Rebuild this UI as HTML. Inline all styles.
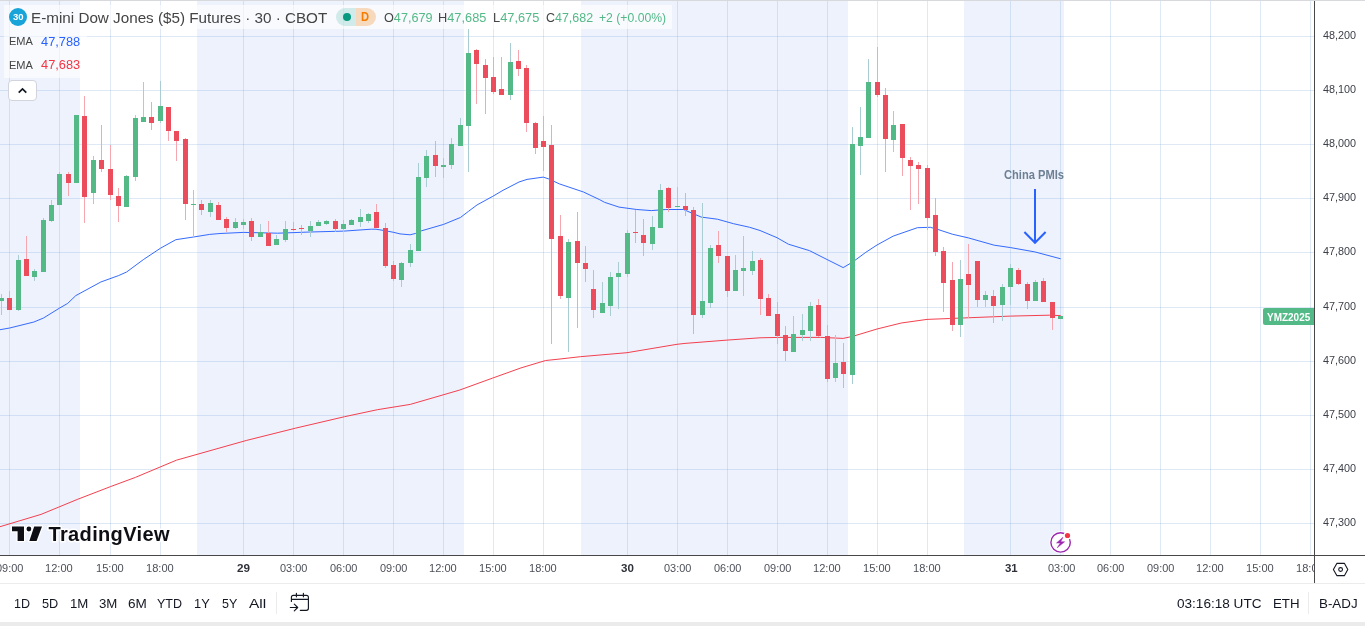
<!DOCTYPE html>
<html lang="en"><head><meta charset="utf-8"><title>E-mini Dow Jones ($5) Futures</title>
<style>
html,body{margin:0;padding:0;background:#fff;}
body{width:1365px;height:626px;overflow:hidden;position:relative;font-family:"Liberation Sans",sans-serif;color:#131722;}
.t{position:absolute;white-space:nowrap;line-height:1;transform-origin:0 0;}
.t b{font-weight:inherit;}
#top{position:absolute;left:0;top:0;width:1365px;height:1px;background:#d8d9dd;}
#chart{position:absolute;left:0;top:0;width:1314px;height:555px;overflow:hidden;}
#chart svg{position:absolute;left:0;top:0;}
#vaxis{position:absolute;left:1314px;top:1px;width:1px;height:582px;background:#484848;}
#haxis{position:absolute;left:0;top:555px;width:1365px;height:1px;background:#484848;}
#sep{position:absolute;left:0;top:583px;width:1365px;height:1px;background:#ececec;}
#strip{position:absolute;left:0;top:622px;width:1365px;height:4px;background:#ebebeb;}
#taxis{position:absolute;left:0;top:556px;width:1314px;height:27px;overflow:hidden;}
#last{position:absolute;left:1263px;top:308px;width:51px;height:17px;background:#53b987;border-radius:2px 0 0 2px;color:#fff;font-size:11px;font-weight:bold;line-height:17px;text-align:center;letter-spacing:-0.2px;}
#legend1{position:absolute;left:4px;top:5px;width:668px;height:24px;background:rgba(255,255,255,0.6);}
#legend2{position:absolute;left:4px;top:29px;width:83px;height:49px;background:rgba(255,255,255,0.6);}
#logo{position:absolute;left:9px;top:8px;width:18px;height:18px;border-radius:50%;background:#18a4d9;}
#pill{position:absolute;left:336px;top:8px;width:40px;height:18px;border-radius:9px;overflow:hidden;}
#pill i{position:absolute;top:0;height:18px;width:20px;}
#pill .a{left:0;background:rgba(8,153,129,0.16);}
#pill .b{left:20px;background:rgba(245,124,0,0.25);}
#pill .dot{position:absolute;left:7px;top:5px;width:8.2px;height:8.2px;border-radius:50%;background:#089981;}
#collapse{position:absolute;left:8px;top:80px;width:27px;height:19px;border:1px solid #d1d4dc;border-radius:4px;background:#fff;}
#tb{position:absolute;left:0;top:584px;width:1365px;height:38px;font-size:14px;line-height:38px;color:#131722;}
#tb i{position:absolute;display:block;}
#tvtext{font-weight:bold;}
</style></head><body>
<div id="chart">
<svg width="1314" height="555" viewBox="0 0 1314 555" shape-rendering="crispEdges">
<rect x="0" y="0" width="80" height="555" fill="#eef2fd"/><rect x="197" y="0" width="267" height="555" fill="#eef2fd"/><rect x="581" y="0" width="267" height="555" fill="#eef2fd"/><rect x="964" y="0" width="100" height="555" fill="#eef2fd"/>
<rect x="9" y="0" width="1" height="555" fill="#6a9bd1" fill-opacity="0.22"/><rect x="59" y="0" width="1" height="555" fill="#6a9bd1" fill-opacity="0.22"/><rect x="110" y="0" width="1" height="555" fill="#6a9bd1" fill-opacity="0.22"/><rect x="160" y="0" width="1" height="555" fill="#6a9bd1" fill-opacity="0.22"/><rect x="243" y="0" width="1" height="555" fill="#6a9bd1" fill-opacity="0.22"/><rect x="293" y="0" width="1" height="555" fill="#6a9bd1" fill-opacity="0.22"/><rect x="343" y="0" width="1" height="555" fill="#6a9bd1" fill-opacity="0.22"/><rect x="393" y="0" width="1" height="555" fill="#6a9bd1" fill-opacity="0.22"/><rect x="443" y="0" width="1" height="555" fill="#6a9bd1" fill-opacity="0.22"/><rect x="493" y="0" width="1" height="555" fill="#6a9bd1" fill-opacity="0.22"/><rect x="543" y="0" width="1" height="555" fill="#6a9bd1" fill-opacity="0.22"/><rect x="627" y="0" width="1" height="555" fill="#6a9bd1" fill-opacity="0.22"/><rect x="677" y="0" width="1" height="555" fill="#6a9bd1" fill-opacity="0.22"/><rect x="727" y="0" width="1" height="555" fill="#6a9bd1" fill-opacity="0.22"/><rect x="777" y="0" width="1" height="555" fill="#6a9bd1" fill-opacity="0.22"/><rect x="827" y="0" width="1" height="555" fill="#6a9bd1" fill-opacity="0.22"/><rect x="877" y="0" width="1" height="555" fill="#6a9bd1" fill-opacity="0.22"/><rect x="927" y="0" width="1" height="555" fill="#6a9bd1" fill-opacity="0.22"/><rect x="1010" y="0" width="1" height="555" fill="#6a9bd1" fill-opacity="0.22"/><rect x="1060" y="0" width="1" height="555" fill="#6a9bd1" fill-opacity="0.22"/><rect x="1110" y="0" width="1" height="555" fill="#6a9bd1" fill-opacity="0.22"/><rect x="1160" y="0" width="1" height="555" fill="#6a9bd1" fill-opacity="0.22"/><rect x="1210" y="0" width="1" height="555" fill="#6a9bd1" fill-opacity="0.22"/><rect x="1260" y="0" width="1" height="555" fill="#6a9bd1" fill-opacity="0.22"/><rect x="1310" y="0" width="1" height="555" fill="#6a9bd1" fill-opacity="0.22"/><rect x="0" y="36" width="1314" height="1" fill="#6a9bd1" fill-opacity="0.22"/><rect x="0" y="90" width="1314" height="1" fill="#6a9bd1" fill-opacity="0.22"/><rect x="0" y="144" width="1314" height="1" fill="#6a9bd1" fill-opacity="0.22"/><rect x="0" y="198" width="1314" height="1" fill="#6a9bd1" fill-opacity="0.22"/><rect x="0" y="252" width="1314" height="1" fill="#6a9bd1" fill-opacity="0.22"/><rect x="0" y="307" width="1314" height="1" fill="#6a9bd1" fill-opacity="0.22"/><rect x="0" y="361" width="1314" height="1" fill="#6a9bd1" fill-opacity="0.22"/><rect x="0" y="415" width="1314" height="1" fill="#6a9bd1" fill-opacity="0.22"/><rect x="0" y="469" width="1314" height="1" fill="#6a9bd1" fill-opacity="0.22"/><rect x="0" y="523" width="1314" height="1" fill="#6a9bd1" fill-opacity="0.22"/>
<g shape-rendering="geometricPrecision" fill="none" stroke-linejoin="round" stroke-linecap="round">
<polyline points="0.0,329.7 9.7,328.0 33.9,322.0 43.5,318.0 59.7,308.0 67.7,303.4 75.8,295.6 100.8,282.0 118.5,275.6 126.6,272.0 143.5,259.5 160.5,248.2 175.8,239.7 193.5,237.0 209.7,234.4 220.0,233.5 243.5,232.4 277.7,233.2 310.0,232.0 343.9,231.1 371.3,229.2 376.0,229.2 385.8,230.8 393.9,232.4 400.0,233.9 410.1,234.8 415.7,233.4 421.2,230.9 443.6,224.4 460.4,217.5 468.7,211.2 477.1,204.9 492.8,196.3 503.0,190.3 519.0,182.0 527.0,179.4 543.2,177.1 548.9,179.0 559.4,183.9 583.5,192.0 599.7,199.7 604.5,202.3 619.0,207.1 636.8,209.5 651.3,210.6 665.8,209.5 683.5,209.5 690.0,212.3 701.3,217.1 717.4,219.2 733.5,223.7 749.7,227.3 760.0,230.5 777.0,237.7 788.4,244.2 809.4,250.6 827.0,259.5 843.2,267.6 852.9,261.9 865.8,252.3 877.0,245.0 893.2,236.1 917.4,227.7 930.3,227.3 937.7,229.4 952.3,234.2 968.4,237.9 994.2,245.2 1010.6,247.6 1034.8,251.9 1060.3,258.7" stroke="#2962ff" stroke-width="0.95"/>
<polyline points="0.0,526.7 41.0,514.4 77.9,499.2 110.8,486.5 135.4,477.4 176.4,460.2 246.2,440.5 295.4,428.2 344.6,416.7 377.4,409.7 410.3,404.4 459.5,390.1 492.3,378.2 521.0,367.9 545.6,360.5 560.0,359.0 580.3,356.7 627.0,352.7 677.0,344.3 685.0,343.4 727.0,340.1 760.0,337.8 780.0,337.4 820.6,337.4 843.2,338.4 852.9,336.3 877.0,329.0 901.3,323.0 927.0,319.4 949.7,318.5 962.3,318.0 1010.6,316.1 1049.4,315.2 1060.3,315.6" stroke="#f23645" stroke-width="0.95"/>
</g>
<rect x="1" y="294" width="1" height="4" fill="#a9cdd3"/>
<rect x="1" y="301" width="1" height="14" fill="#a9cdd3"/>
<rect x="9" y="291" width="1" height="7" fill="#f5a6ae"/>
<rect x="18" y="255" width="1" height="5" fill="#a9cdd3"/>
<rect x="18" y="310" width="1" height="1" fill="#a9cdd3"/>
<rect x="26" y="236" width="1" height="23" fill="#f5a6ae"/>
<rect x="34" y="269" width="1" height="2" fill="#a9cdd3"/>
<rect x="34" y="277" width="1" height="4" fill="#a9cdd3"/>
<rect x="43" y="218" width="1" height="2" fill="#a9cdd3"/>
<rect x="51" y="200" width="1" height="5" fill="#a9cdd3"/>
<rect x="51" y="221" width="1" height="1" fill="#a9cdd3"/>
<rect x="59" y="172" width="1" height="2" fill="#a9cdd3"/>
<rect x="68" y="172" width="1" height="2" fill="#f5a6ae"/>
<rect x="68" y="183" width="1" height="13" fill="#f5a6ae"/>
<rect x="84" y="96" width="1" height="20" fill="#f5a6ae"/>
<rect x="84" y="197" width="1" height="26" fill="#f5a6ae"/>
<rect x="93" y="156" width="1" height="4" fill="#a9cdd3"/>
<rect x="93" y="193" width="1" height="11" fill="#a9cdd3"/>
<rect x="101" y="125" width="1" height="35" fill="#f5a6ae"/>
<rect x="101" y="169" width="1" height="3" fill="#f5a6ae"/>
<rect x="110" y="145" width="1" height="24" fill="#f5a6ae"/>
<rect x="110" y="195" width="1" height="5" fill="#f5a6ae"/>
<rect x="118" y="188" width="1" height="8" fill="#f5a6ae"/>
<rect x="118" y="206" width="1" height="16" fill="#f5a6ae"/>
<rect x="126" y="175" width="1" height="1" fill="#a9cdd3"/>
<rect x="135" y="115" width="1" height="3" fill="#a9cdd3"/>
<rect x="135" y="177" width="1" height="4" fill="#a9cdd3"/>
<rect x="143" y="82" width="1" height="35" fill="#a9cdd3"/>
<rect x="151" y="102" width="1" height="15" fill="#f5a6ae"/>
<rect x="151" y="123" width="1" height="7" fill="#f5a6ae"/>
<rect x="160" y="81" width="1" height="25" fill="#a9cdd3"/>
<rect x="160" y="121" width="1" height="2" fill="#a9cdd3"/>
<rect x="168" y="131" width="1" height="10" fill="#f5a6ae"/>
<rect x="176" y="141" width="1" height="20" fill="#f5a6ae"/>
<rect x="185" y="138" width="1" height="1" fill="#f5a6ae"/>
<rect x="185" y="204" width="1" height="16" fill="#f5a6ae"/>
<rect x="193" y="190" width="1" height="14" fill="#a9cdd3"/>
<rect x="193" y="205" width="1" height="32" fill="#a9cdd3"/>
<rect x="201" y="200" width="1" height="4" fill="#f5a6ae"/>
<rect x="201" y="210" width="1" height="5" fill="#f5a6ae"/>
<rect x="210" y="200" width="1" height="3" fill="#a9cdd3"/>
<rect x="210" y="212" width="1" height="5" fill="#a9cdd3"/>
<rect x="218" y="202" width="1" height="3" fill="#f5a6ae"/>
<rect x="226" y="217" width="1" height="2" fill="#f5a6ae"/>
<rect x="226" y="228" width="1" height="4" fill="#f5a6ae"/>
<rect x="235" y="218" width="1" height="4" fill="#a9cdd3"/>
<rect x="235" y="228" width="1" height="1" fill="#a9cdd3"/>
<rect x="243" y="219" width="1" height="3" fill="#a9cdd3"/>
<rect x="243" y="225" width="1" height="4" fill="#a9cdd3"/>
<rect x="251" y="218" width="1" height="3" fill="#f5a6ae"/>
<rect x="251" y="237" width="1" height="4" fill="#f5a6ae"/>
<rect x="260" y="224" width="1" height="8" fill="#a9cdd3"/>
<rect x="268" y="221" width="1" height="12" fill="#f5a6ae"/>
<rect x="276" y="235" width="1" height="4" fill="#a9cdd3"/>
<rect x="285" y="221" width="1" height="8" fill="#a9cdd3"/>
<rect x="285" y="240" width="1" height="2" fill="#a9cdd3"/>
<rect x="293" y="222" width="1" height="7" fill="#f5a6ae"/>
<rect x="293" y="230" width="1" height="1" fill="#f5a6ae"/>
<rect x="301" y="225" width="1" height="3" fill="#f5a6ae"/>
<rect x="301" y="229" width="1" height="6" fill="#f5a6ae"/>
<rect x="310" y="221" width="1" height="5" fill="#a9cdd3"/>
<rect x="310" y="231" width="1" height="6" fill="#a9cdd3"/>
<rect x="318" y="220" width="1" height="2" fill="#a9cdd3"/>
<rect x="326" y="220" width="1" height="1" fill="#a9cdd3"/>
<rect x="326" y="224" width="1" height="1" fill="#a9cdd3"/>
<rect x="335" y="219" width="1" height="2" fill="#f5a6ae"/>
<rect x="335" y="229" width="1" height="3" fill="#f5a6ae"/>
<rect x="343" y="220" width="1" height="4" fill="#a9cdd3"/>
<rect x="343" y="229" width="1" height="3" fill="#a9cdd3"/>
<rect x="351" y="219" width="1" height="1" fill="#a9cdd3"/>
<rect x="360" y="209" width="1" height="8" fill="#a9cdd3"/>
<rect x="360" y="222" width="1" height="5" fill="#a9cdd3"/>
<rect x="368" y="213" width="1" height="1" fill="#a9cdd3"/>
<rect x="368" y="221" width="1" height="2" fill="#a9cdd3"/>
<rect x="376" y="204" width="1" height="8" fill="#f5a6ae"/>
<rect x="385" y="223" width="1" height="5" fill="#f5a6ae"/>
<rect x="385" y="266" width="1" height="2" fill="#f5a6ae"/>
<rect x="393" y="261" width="1" height="4" fill="#f5a6ae"/>
<rect x="393" y="279" width="1" height="2" fill="#f5a6ae"/>
<rect x="401" y="262" width="1" height="1" fill="#a9cdd3"/>
<rect x="401" y="280" width="1" height="7" fill="#a9cdd3"/>
<rect x="410" y="244" width="1" height="6" fill="#a9cdd3"/>
<rect x="410" y="263" width="1" height="4" fill="#a9cdd3"/>
<rect x="418" y="163" width="1" height="14" fill="#a9cdd3"/>
<rect x="426" y="150" width="1" height="6" fill="#a9cdd3"/>
<rect x="426" y="178" width="1" height="9" fill="#a9cdd3"/>
<rect x="435" y="141" width="1" height="14" fill="#f5a6ae"/>
<rect x="435" y="166" width="1" height="11" fill="#f5a6ae"/>
<rect x="443" y="158" width="1" height="7" fill="#a9cdd3"/>
<rect x="443" y="167" width="1" height="11" fill="#a9cdd3"/>
<rect x="451" y="138" width="1" height="6" fill="#a9cdd3"/>
<rect x="451" y="165" width="1" height="4" fill="#a9cdd3"/>
<rect x="460" y="118" width="1" height="7" fill="#a9cdd3"/>
<rect x="468" y="29" width="1" height="24" fill="#a9cdd3"/>
<rect x="468" y="126" width="1" height="46" fill="#a9cdd3"/>
<rect x="476" y="49" width="1" height="1" fill="#f5a6ae"/>
<rect x="476" y="64" width="1" height="40" fill="#f5a6ae"/>
<rect x="485" y="59" width="1" height="6" fill="#f5a6ae"/>
<rect x="485" y="78" width="1" height="36" fill="#f5a6ae"/>
<rect x="493" y="57" width="1" height="20" fill="#f5a6ae"/>
<rect x="493" y="92" width="1" height="2" fill="#f5a6ae"/>
<rect x="501" y="57" width="1" height="32" fill="#f5a6ae"/>
<rect x="510" y="43" width="1" height="19" fill="#a9cdd3"/>
<rect x="510" y="95" width="1" height="5" fill="#a9cdd3"/>
<rect x="518" y="50" width="1" height="11" fill="#f5a6ae"/>
<rect x="518" y="69" width="1" height="7" fill="#f5a6ae"/>
<rect x="526" y="65" width="1" height="3" fill="#f5a6ae"/>
<rect x="526" y="123" width="1" height="9" fill="#f5a6ae"/>
<rect x="535" y="122" width="1" height="1" fill="#f5a6ae"/>
<rect x="535" y="148" width="1" height="6" fill="#f5a6ae"/>
<rect x="543" y="116" width="1" height="25" fill="#f5a6ae"/>
<rect x="543" y="147" width="1" height="24" fill="#f5a6ae"/>
<rect x="551" y="125" width="1" height="20" fill="#f5a6ae"/>
<rect x="551" y="239" width="1" height="105" fill="#f5a6ae"/>
<rect x="560" y="215" width="1" height="21" fill="#f5a6ae"/>
<rect x="560" y="296" width="1" height="3" fill="#f5a6ae"/>
<rect x="568" y="239" width="1" height="3" fill="#a9cdd3"/>
<rect x="568" y="298" width="1" height="54" fill="#a9cdd3"/>
<rect x="577" y="212" width="1" height="29" fill="#f5a6ae"/>
<rect x="577" y="263" width="1" height="65" fill="#f5a6ae"/>
<rect x="585" y="246" width="1" height="17" fill="#f5a6ae"/>
<rect x="585" y="269" width="1" height="13" fill="#f5a6ae"/>
<rect x="593" y="270" width="1" height="19" fill="#f5a6ae"/>
<rect x="593" y="310" width="1" height="8" fill="#f5a6ae"/>
<rect x="602" y="282" width="1" height="21" fill="#a9cdd3"/>
<rect x="610" y="272" width="1" height="5" fill="#a9cdd3"/>
<rect x="610" y="306" width="1" height="10" fill="#a9cdd3"/>
<rect x="618" y="262" width="1" height="11" fill="#a9cdd3"/>
<rect x="618" y="277" width="1" height="32" fill="#a9cdd3"/>
<rect x="627" y="230" width="1" height="3" fill="#a9cdd3"/>
<rect x="627" y="274" width="1" height="3" fill="#a9cdd3"/>
<rect x="635" y="210" width="1" height="22" fill="#f5a6ae"/>
<rect x="635" y="233" width="1" height="10" fill="#f5a6ae"/>
<rect x="643" y="219" width="1" height="16" fill="#f5a6ae"/>
<rect x="643" y="243" width="1" height="13" fill="#f5a6ae"/>
<rect x="652" y="216" width="1" height="11" fill="#a9cdd3"/>
<rect x="652" y="244" width="1" height="6" fill="#a9cdd3"/>
<rect x="660" y="184" width="1" height="6" fill="#a9cdd3"/>
<rect x="668" y="187" width="1" height="1" fill="#f5a6ae"/>
<rect x="668" y="208" width="1" height="4" fill="#f5a6ae"/>
<rect x="677" y="187" width="1" height="19" fill="#a9cdd3"/>
<rect x="685" y="193" width="1" height="13" fill="#f5a6ae"/>
<rect x="685" y="210" width="1" height="6" fill="#f5a6ae"/>
<rect x="693" y="207" width="1" height="3" fill="#f5a6ae"/>
<rect x="693" y="315" width="1" height="19" fill="#f5a6ae"/>
<rect x="702" y="203" width="1" height="98" fill="#a9cdd3"/>
<rect x="702" y="315" width="1" height="3" fill="#a9cdd3"/>
<rect x="710" y="245" width="1" height="3" fill="#a9cdd3"/>
<rect x="710" y="303" width="1" height="5" fill="#a9cdd3"/>
<rect x="718" y="231" width="1" height="14" fill="#f5a6ae"/>
<rect x="718" y="256" width="1" height="7" fill="#f5a6ae"/>
<rect x="727" y="291" width="1" height="6" fill="#f5a6ae"/>
<rect x="735" y="255" width="1" height="15" fill="#a9cdd3"/>
<rect x="743" y="236" width="1" height="32" fill="#a9cdd3"/>
<rect x="743" y="271" width="1" height="25" fill="#a9cdd3"/>
<rect x="752" y="251" width="1" height="10" fill="#a9cdd3"/>
<rect x="752" y="271" width="1" height="4" fill="#a9cdd3"/>
<rect x="760" y="258" width="1" height="2" fill="#f5a6ae"/>
<rect x="760" y="299" width="1" height="16" fill="#f5a6ae"/>
<rect x="768" y="294" width="1" height="4" fill="#f5a6ae"/>
<rect x="777" y="302" width="1" height="12" fill="#f5a6ae"/>
<rect x="777" y="336" width="1" height="8" fill="#f5a6ae"/>
<rect x="785" y="326" width="1" height="9" fill="#f5a6ae"/>
<rect x="785" y="351" width="1" height="10" fill="#f5a6ae"/>
<rect x="793" y="316" width="1" height="18" fill="#a9cdd3"/>
<rect x="802" y="314" width="1" height="16" fill="#a9cdd3"/>
<rect x="802" y="335" width="1" height="6" fill="#a9cdd3"/>
<rect x="810" y="302" width="1" height="4" fill="#a9cdd3"/>
<rect x="810" y="331" width="1" height="10" fill="#a9cdd3"/>
<rect x="818" y="299" width="1" height="6" fill="#f5a6ae"/>
<rect x="818" y="336" width="1" height="1" fill="#f5a6ae"/>
<rect x="827" y="325" width="1" height="11" fill="#f5a6ae"/>
<rect x="827" y="379" width="1" height="3" fill="#f5a6ae"/>
<rect x="835" y="335" width="1" height="28" fill="#a9cdd3"/>
<rect x="835" y="378" width="1" height="4" fill="#a9cdd3"/>
<rect x="843" y="343" width="1" height="19" fill="#f5a6ae"/>
<rect x="843" y="374" width="1" height="14" fill="#f5a6ae"/>
<rect x="852" y="127" width="1" height="17" fill="#a9cdd3"/>
<rect x="852" y="375" width="1" height="9" fill="#a9cdd3"/>
<rect x="860" y="107" width="1" height="30" fill="#a9cdd3"/>
<rect x="860" y="146" width="1" height="29" fill="#a9cdd3"/>
<rect x="868" y="59" width="1" height="23" fill="#a9cdd3"/>
<rect x="877" y="47" width="1" height="35" fill="#f5a6ae"/>
<rect x="877" y="95" width="1" height="2" fill="#f5a6ae"/>
<rect x="885" y="88" width="1" height="7" fill="#f5a6ae"/>
<rect x="885" y="139" width="1" height="33" fill="#f5a6ae"/>
<rect x="893" y="111" width="1" height="14" fill="#a9cdd3"/>
<rect x="893" y="140" width="1" height="12" fill="#a9cdd3"/>
<rect x="902" y="158" width="1" height="18" fill="#f5a6ae"/>
<rect x="910" y="157" width="1" height="3" fill="#f5a6ae"/>
<rect x="910" y="166" width="1" height="44" fill="#f5a6ae"/>
<rect x="918" y="162" width="1" height="3" fill="#f5a6ae"/>
<rect x="918" y="169" width="1" height="35" fill="#f5a6ae"/>
<rect x="927" y="165" width="1" height="3" fill="#f5a6ae"/>
<rect x="927" y="218" width="1" height="12" fill="#f5a6ae"/>
<rect x="935" y="198" width="1" height="17" fill="#f5a6ae"/>
<rect x="935" y="252" width="1" height="4" fill="#f5a6ae"/>
<rect x="943" y="247" width="1" height="4" fill="#f5a6ae"/>
<rect x="943" y="283" width="1" height="29" fill="#f5a6ae"/>
<rect x="952" y="262" width="1" height="18" fill="#f5a6ae"/>
<rect x="952" y="325" width="1" height="6" fill="#f5a6ae"/>
<rect x="960" y="260" width="1" height="19" fill="#a9cdd3"/>
<rect x="960" y="325" width="1" height="12" fill="#a9cdd3"/>
<rect x="968" y="244" width="1" height="30" fill="#f5a6ae"/>
<rect x="968" y="285" width="1" height="33" fill="#f5a6ae"/>
<rect x="977" y="300" width="1" height="7" fill="#f5a6ae"/>
<rect x="985" y="291" width="1" height="4" fill="#a9cdd3"/>
<rect x="985" y="300" width="1" height="7" fill="#a9cdd3"/>
<rect x="993" y="290" width="1" height="6" fill="#f5a6ae"/>
<rect x="993" y="306" width="1" height="17" fill="#f5a6ae"/>
<rect x="1002" y="284" width="1" height="3" fill="#a9cdd3"/>
<rect x="1002" y="305" width="1" height="16" fill="#a9cdd3"/>
<rect x="1010" y="264" width="1" height="4" fill="#a9cdd3"/>
<rect x="1010" y="287" width="1" height="18" fill="#a9cdd3"/>
<rect x="1018" y="268" width="1" height="2" fill="#f5a6ae"/>
<rect x="1018" y="284" width="1" height="1" fill="#f5a6ae"/>
<rect x="1027" y="282" width="1" height="2" fill="#f5a6ae"/>
<rect x="1027" y="301" width="1" height="8" fill="#f5a6ae"/>
<rect x="1035" y="280" width="1" height="2" fill="#a9cdd3"/>
<rect x="1043" y="278" width="1" height="3" fill="#f5a6ae"/>
<rect x="1052" y="318" width="1" height="12" fill="#f5a6ae"/>
<rect x="-1" y="298" width="5" height="3" fill="#53b987"/>
<rect x="7" y="298" width="5" height="12" fill="#eb4d5c"/>
<rect x="16" y="260" width="5" height="50" fill="#53b987"/>
<rect x="24" y="259" width="5" height="17" fill="#eb4d5c"/>
<rect x="32" y="271" width="5" height="6" fill="#53b987"/>
<rect x="41" y="220" width="5" height="52" fill="#53b987"/>
<rect x="49" y="205" width="5" height="16" fill="#53b987"/>
<rect x="57" y="174" width="5" height="31" fill="#53b987"/>
<rect x="66" y="174" width="5" height="9" fill="#eb4d5c"/>
<rect x="74" y="115" width="5" height="68" fill="#53b987"/>
<rect x="82" y="116" width="5" height="81" fill="#eb4d5c"/>
<rect x="91" y="160" width="5" height="33" fill="#53b987"/>
<rect x="99" y="160" width="5" height="9" fill="#eb4d5c"/>
<rect x="108" y="169" width="5" height="26" fill="#eb4d5c"/>
<rect x="116" y="196" width="5" height="10" fill="#eb4d5c"/>
<rect x="124" y="176" width="5" height="31" fill="#53b987"/>
<rect x="133" y="118" width="5" height="59" fill="#53b987"/>
<rect x="141" y="117" width="5" height="5" fill="#53b987"/>
<rect x="149" y="117" width="5" height="6" fill="#eb4d5c"/>
<rect x="158" y="106" width="5" height="15" fill="#53b987"/>
<rect x="166" y="107" width="5" height="24" fill="#eb4d5c"/>
<rect x="174" y="131" width="5" height="10" fill="#eb4d5c"/>
<rect x="183" y="139" width="5" height="65" fill="#eb4d5c"/>
<rect x="191" y="204" width="5" height="1" fill="#53b987"/>
<rect x="199" y="204" width="5" height="6" fill="#eb4d5c"/>
<rect x="208" y="203" width="5" height="9" fill="#53b987"/>
<rect x="216" y="205" width="5" height="15" fill="#eb4d5c"/>
<rect x="224" y="219" width="5" height="9" fill="#eb4d5c"/>
<rect x="233" y="222" width="5" height="6" fill="#53b987"/>
<rect x="241" y="222" width="5" height="3" fill="#53b987"/>
<rect x="249" y="221" width="5" height="16" fill="#eb4d5c"/>
<rect x="258" y="232" width="5" height="5" fill="#53b987"/>
<rect x="266" y="233" width="5" height="13" fill="#eb4d5c"/>
<rect x="274" y="239" width="5" height="6" fill="#53b987"/>
<rect x="283" y="229" width="5" height="11" fill="#53b987"/>
<rect x="291" y="229" width="5" height="1" fill="#eb4d5c"/>
<rect x="299" y="228" width="5" height="1" fill="#eb4d5c"/>
<rect x="308" y="226" width="5" height="5" fill="#53b987"/>
<rect x="316" y="222" width="5" height="4" fill="#53b987"/>
<rect x="324" y="221" width="5" height="3" fill="#53b987"/>
<rect x="333" y="221" width="5" height="8" fill="#eb4d5c"/>
<rect x="341" y="224" width="5" height="5" fill="#53b987"/>
<rect x="349" y="220" width="5" height="5" fill="#53b987"/>
<rect x="358" y="217" width="5" height="5" fill="#53b987"/>
<rect x="366" y="214" width="5" height="7" fill="#53b987"/>
<rect x="374" y="212" width="5" height="16" fill="#eb4d5c"/>
<rect x="383" y="228" width="5" height="38" fill="#eb4d5c"/>
<rect x="391" y="265" width="5" height="14" fill="#eb4d5c"/>
<rect x="399" y="263" width="5" height="17" fill="#53b987"/>
<rect x="408" y="250" width="5" height="13" fill="#53b987"/>
<rect x="416" y="177" width="5" height="74" fill="#53b987"/>
<rect x="424" y="156" width="5" height="22" fill="#53b987"/>
<rect x="433" y="155" width="5" height="11" fill="#eb4d5c"/>
<rect x="441" y="165" width="5" height="2" fill="#53b987"/>
<rect x="449" y="144" width="5" height="21" fill="#53b987"/>
<rect x="458" y="125" width="5" height="21" fill="#53b987"/>
<rect x="466" y="53" width="5" height="73" fill="#53b987"/>
<rect x="474" y="50" width="5" height="14" fill="#eb4d5c"/>
<rect x="483" y="65" width="5" height="13" fill="#eb4d5c"/>
<rect x="491" y="77" width="5" height="15" fill="#eb4d5c"/>
<rect x="499" y="89" width="5" height="6" fill="#eb4d5c"/>
<rect x="508" y="62" width="5" height="33" fill="#53b987"/>
<rect x="516" y="61" width="5" height="8" fill="#eb4d5c"/>
<rect x="524" y="68" width="5" height="55" fill="#eb4d5c"/>
<rect x="533" y="123" width="5" height="25" fill="#eb4d5c"/>
<rect x="541" y="141" width="5" height="6" fill="#eb4d5c"/>
<rect x="549" y="145" width="5" height="94" fill="#eb4d5c"/>
<rect x="558" y="236" width="5" height="60" fill="#eb4d5c"/>
<rect x="566" y="242" width="5" height="56" fill="#53b987"/>
<rect x="575" y="241" width="5" height="22" fill="#eb4d5c"/>
<rect x="583" y="263" width="5" height="6" fill="#eb4d5c"/>
<rect x="591" y="289" width="5" height="21" fill="#eb4d5c"/>
<rect x="600" y="303" width="5" height="10" fill="#53b987"/>
<rect x="608" y="277" width="5" height="29" fill="#53b987"/>
<rect x="616" y="273" width="5" height="4" fill="#53b987"/>
<rect x="625" y="233" width="5" height="41" fill="#53b987"/>
<rect x="633" y="232" width="5" height="1" fill="#eb4d5c"/>
<rect x="641" y="235" width="5" height="8" fill="#eb4d5c"/>
<rect x="650" y="227" width="5" height="17" fill="#53b987"/>
<rect x="658" y="190" width="5" height="38" fill="#53b987"/>
<rect x="666" y="188" width="5" height="20" fill="#eb4d5c"/>
<rect x="675" y="206" width="5" height="1" fill="#53b987"/>
<rect x="683" y="206" width="5" height="4" fill="#eb4d5c"/>
<rect x="691" y="210" width="5" height="105" fill="#eb4d5c"/>
<rect x="700" y="301" width="5" height="14" fill="#53b987"/>
<rect x="708" y="248" width="5" height="55" fill="#53b987"/>
<rect x="716" y="245" width="5" height="11" fill="#eb4d5c"/>
<rect x="725" y="256" width="5" height="35" fill="#eb4d5c"/>
<rect x="733" y="270" width="5" height="21" fill="#53b987"/>
<rect x="741" y="268" width="5" height="3" fill="#53b987"/>
<rect x="750" y="261" width="5" height="10" fill="#53b987"/>
<rect x="758" y="260" width="5" height="39" fill="#eb4d5c"/>
<rect x="766" y="298" width="5" height="18" fill="#eb4d5c"/>
<rect x="775" y="314" width="5" height="22" fill="#eb4d5c"/>
<rect x="783" y="335" width="5" height="16" fill="#eb4d5c"/>
<rect x="791" y="334" width="5" height="18" fill="#53b987"/>
<rect x="800" y="330" width="5" height="5" fill="#53b987"/>
<rect x="808" y="306" width="5" height="25" fill="#53b987"/>
<rect x="816" y="305" width="5" height="31" fill="#eb4d5c"/>
<rect x="825" y="336" width="5" height="43" fill="#eb4d5c"/>
<rect x="833" y="363" width="5" height="15" fill="#53b987"/>
<rect x="841" y="362" width="5" height="12" fill="#eb4d5c"/>
<rect x="850" y="144" width="5" height="231" fill="#53b987"/>
<rect x="858" y="137" width="5" height="9" fill="#53b987"/>
<rect x="866" y="82" width="5" height="56" fill="#53b987"/>
<rect x="875" y="82" width="5" height="13" fill="#eb4d5c"/>
<rect x="883" y="95" width="5" height="44" fill="#eb4d5c"/>
<rect x="891" y="125" width="5" height="15" fill="#53b987"/>
<rect x="900" y="124" width="5" height="34" fill="#eb4d5c"/>
<rect x="908" y="160" width="5" height="6" fill="#eb4d5c"/>
<rect x="916" y="165" width="5" height="4" fill="#eb4d5c"/>
<rect x="925" y="168" width="5" height="50" fill="#eb4d5c"/>
<rect x="933" y="215" width="5" height="37" fill="#eb4d5c"/>
<rect x="941" y="251" width="5" height="32" fill="#eb4d5c"/>
<rect x="950" y="280" width="5" height="45" fill="#eb4d5c"/>
<rect x="958" y="279" width="5" height="46" fill="#53b987"/>
<rect x="966" y="274" width="5" height="11" fill="#eb4d5c"/>
<rect x="975" y="261" width="5" height="39" fill="#eb4d5c"/>
<rect x="983" y="295" width="5" height="5" fill="#53b987"/>
<rect x="991" y="296" width="5" height="10" fill="#eb4d5c"/>
<rect x="1000" y="287" width="5" height="18" fill="#53b987"/>
<rect x="1008" y="268" width="5" height="19" fill="#53b987"/>
<rect x="1016" y="270" width="5" height="14" fill="#eb4d5c"/>
<rect x="1025" y="284" width="5" height="17" fill="#eb4d5c"/>
<rect x="1033" y="282" width="5" height="19" fill="#53b987"/>
<rect x="1041" y="281" width="5" height="21" fill="#eb4d5c"/>
<rect x="1050" y="302" width="5" height="16" fill="#eb4d5c"/>
<rect x="1058" y="316" width="5" height="3" fill="#53b987"/>
<g shape-rendering="geometricPrecision">
<path d="M1035 189 V242.5 M1024.4 232 L1035 242.8 L1045.6 232" fill="none" stroke="#2962ff" stroke-width="2"/>
<!-- lightning -->
<circle cx="1060.6" cy="542.4" r="11.2" fill="#fff"/>
<circle cx="1060.6" cy="542.4" r="9.7" fill="#fff" stroke="#9c27b0" stroke-width="1.4"/>
<path d="M1063 537.2 L1056.5 543 L1060.3 543 L1057.2 547.8 L1064.6 541.8 L1060.7 541.8 Z" fill="#9c27b0" stroke="#9c27b0" stroke-width="0.5" stroke-linejoin="round"/>
<circle cx="1067.5" cy="535.5" r="3.9" fill="#fff"/>
<circle cx="1067.5" cy="535.5" r="2.6" fill="#f23645"/>
<!-- TV logo -->
<g stroke="#fff" stroke-width="2.5" stroke-linejoin="round" fill="#0d0f14" paint-order="stroke">
<path d="M12 526.5 H24 V541 H17.6 V531.3 H12 Z"/>
<circle cx="28.9" cy="529" r="2.4"/>
<path d="M34.2 526.5 H42 L36.6 541 H29.3 Z"/>
<text x="48.5" y="540.8" font-family="Liberation Sans, sans-serif" font-size="20" font-weight="bold" stroke-width="3" letter-spacing="0.35">TradingView</text>
</g>
</g>
</svg>
</div>
<span class="t " style="left:1003.86px;top:168.56px;font-size:12.8px;font-weight:bold;color:#6d7f93;transform:scaleX(0.8707)">China PMIs</span>
<div id="legend1"></div><div id="legend2"></div>
<div id="logo"></div><span class="t " style="left:12.77px;top:12.16px;font-size:9.5px;font-weight:bold;color:#fff;transform:scaleX(1.0041)">30</span>
<span class="t " style="left:30.86px;top:10.20px;font-size:15px;font-weight:normal;color:#444;transform:scaleX(1.0154)">E-mini Dow Jones ($5) Futures · 30 · CBOT</span>
<div id="pill"><i class="a"></i><i class="b"></i><span class="dot"></span></div><span class="t " style="left:361.15px;top:10.40px;font-size:13px;font-weight:bold;color:#f57c00;transform:scaleX(0.8615)">D</span>
<span class="t " style="left:384.11px;top:10.90px;font-size:13px;font-weight:normal;color:#444;transform:scaleX(0.9740)">O<b style=color:#53b987>47,679</b></span><span class="t " style="left:438.32px;top:10.90px;font-size:13px;font-weight:normal;color:#444;transform:scaleX(0.9838)">H<b style=color:#53b987>47,685</b></span><span class="t " style="left:493.11px;top:10.90px;font-size:13px;font-weight:normal;color:#444;transform:scaleX(0.9866)">L<b style=color:#53b987>47,675</b></span><span class="t " style="left:545.80px;top:10.90px;font-size:13px;font-weight:normal;color:#444;transform:scaleX(0.9578)">C<b style=color:#53b987>47,682</b></span><span class="t " style="left:599.11px;top:10.90px;font-size:13px;font-weight:normal;color:#53b987;transform:scaleX(0.9385)">+2 (+0.00%)</span>
<span class="t " style="left:8.78px;top:36.11px;font-size:11.8px;font-weight:normal;color:#444;transform:scaleX(0.9353)">EMA</span><span class="t " style="left:40.64px;top:35.69px;font-size:12.3px;font-weight:normal;color:#2962ff;transform:scaleX(1.0433)">47,788</span>
<span class="t " style="left:8.78px;top:59.91px;font-size:11.8px;font-weight:normal;color:#444;transform:scaleX(0.9353)">EMA</span><span class="t " style="left:40.64px;top:59.49px;font-size:12.3px;font-weight:normal;color:#f23645;transform:scaleX(1.0433)">47,683</span>
<div id="collapse"><svg width="27" height="19" viewBox="0 0 27 19"><path d="M9.7 11.7 L13.5 7.9 L17.3 11.7" fill="none" stroke="#131722" stroke-width="1.7"/></svg></div>
<div id="last"></div><span class="t " style="left:1266.98px;top:311.71px;font-size:10.5px;font-weight:bold;color:#fff;transform:scaleX(0.9495)">YMZ2025</span>
<div id="top"></div>
<div id="vaxis"></div><div id="haxis"></div>
<div id="taxis"><span class="t " style="left:-4.16px;top:6.93px;font-size:11.3px;font-weight:normal;color:#4d5059;transform:scaleX(0.9676)">09:00</span><span class="t " style="left:45.46px;top:6.93px;font-size:11.3px;font-weight:normal;color:#4d5059;transform:scaleX(0.9810)">12:00</span><span class="t " style="left:96.46px;top:6.93px;font-size:11.3px;font-weight:normal;color:#4d5059;transform:scaleX(0.9810)">15:00</span><span class="t " style="left:146.46px;top:6.93px;font-size:11.3px;font-weight:normal;color:#4d5059;transform:scaleX(0.9810)">18:00</span><span class="t " style="left:237.01px;top:6.93px;font-size:11.3px;font-weight:bold;color:#2f323b;transform:scaleX(1.0353)">29</span><span class="t " style="left:279.84px;top:6.93px;font-size:11.3px;font-weight:normal;color:#4d5059;transform:scaleX(0.9676)">03:00</span><span class="t " style="left:329.84px;top:6.93px;font-size:11.3px;font-weight:normal;color:#4d5059;transform:scaleX(0.9676)">06:00</span><span class="t " style="left:379.84px;top:6.93px;font-size:11.3px;font-weight:normal;color:#4d5059;transform:scaleX(0.9676)">09:00</span><span class="t " style="left:429.46px;top:6.93px;font-size:11.3px;font-weight:normal;color:#4d5059;transform:scaleX(0.9810)">12:00</span><span class="t " style="left:479.46px;top:6.93px;font-size:11.3px;font-weight:normal;color:#4d5059;transform:scaleX(0.9810)">15:00</span><span class="t " style="left:529.46px;top:6.93px;font-size:11.3px;font-weight:normal;color:#4d5059;transform:scaleX(0.9810)">18:00</span><span class="t " style="left:621.14px;top:6.93px;font-size:11.3px;font-weight:bold;color:#2f323b;transform:scaleX(1.0244)">30</span><span class="t " style="left:663.84px;top:6.93px;font-size:11.3px;font-weight:normal;color:#4d5059;transform:scaleX(0.9676)">03:00</span><span class="t " style="left:713.84px;top:6.93px;font-size:11.3px;font-weight:normal;color:#4d5059;transform:scaleX(0.9676)">06:00</span><span class="t " style="left:763.84px;top:6.93px;font-size:11.3px;font-weight:normal;color:#4d5059;transform:scaleX(0.9676)">09:00</span><span class="t " style="left:813.46px;top:6.93px;font-size:11.3px;font-weight:normal;color:#4d5059;transform:scaleX(0.9810)">12:00</span><span class="t " style="left:863.46px;top:6.93px;font-size:11.3px;font-weight:normal;color:#4d5059;transform:scaleX(0.9810)">15:00</span><span class="t " style="left:913.46px;top:6.93px;font-size:11.3px;font-weight:normal;color:#4d5059;transform:scaleX(0.9810)">18:00</span><span class="t " style="left:1005.15px;top:6.93px;font-size:11.3px;font-weight:bold;color:#2f323b;transform:scaleX(1.0138)">31</span><span class="t " style="left:1047.84px;top:6.93px;font-size:11.3px;font-weight:normal;color:#4d5059;transform:scaleX(0.9676)">03:00</span><span class="t " style="left:1096.84px;top:6.93px;font-size:11.3px;font-weight:normal;color:#4d5059;transform:scaleX(0.9676)">06:00</span><span class="t " style="left:1146.84px;top:6.93px;font-size:11.3px;font-weight:normal;color:#4d5059;transform:scaleX(0.9676)">09:00</span><span class="t " style="left:1196.46px;top:6.93px;font-size:11.3px;font-weight:normal;color:#4d5059;transform:scaleX(0.9810)">12:00</span><span class="t " style="left:1246.46px;top:6.93px;font-size:11.3px;font-weight:normal;color:#4d5059;transform:scaleX(0.9810)">15:00</span><span class="t " style="left:1296.46px;top:6.93px;font-size:11.3px;font-weight:normal;color:#4d5059;transform:scaleX(0.9810)">18:00</span></div>
<span class="t " style="left:1322.86px;top:30.02px;font-size:11.2px;font-weight:normal;color:#3c3f48;transform:scaleX(0.9688)">48,200</span><span class="t " style="left:1322.86px;top:84.02px;font-size:11.2px;font-weight:normal;color:#3c3f48;transform:scaleX(0.9688)">48,100</span><span class="t " style="left:1322.86px;top:138.02px;font-size:11.2px;font-weight:normal;color:#3c3f48;transform:scaleX(0.9688)">48,000</span><span class="t " style="left:1322.86px;top:192.02px;font-size:11.2px;font-weight:normal;color:#3c3f48;transform:scaleX(0.9688)">47,900</span><span class="t " style="left:1322.86px;top:246.02px;font-size:11.2px;font-weight:normal;color:#3c3f48;transform:scaleX(0.9688)">47,800</span><span class="t " style="left:1322.86px;top:301.02px;font-size:11.2px;font-weight:normal;color:#3c3f48;transform:scaleX(0.9688)">47,700</span><span class="t " style="left:1322.86px;top:355.02px;font-size:11.2px;font-weight:normal;color:#3c3f48;transform:scaleX(0.9688)">47,600</span><span class="t " style="left:1322.86px;top:409.02px;font-size:11.2px;font-weight:normal;color:#3c3f48;transform:scaleX(0.9688)">47,500</span><span class="t " style="left:1322.86px;top:463.02px;font-size:11.2px;font-weight:normal;color:#3c3f48;transform:scaleX(0.9688)">47,400</span><span class="t " style="left:1322.86px;top:517.02px;font-size:11.2px;font-weight:normal;color:#3c3f48;transform:scaleX(0.9688)">47,300</span>
<svg style="position:absolute;left:1328px;top:558px" width="24" height="22" viewBox="0 0 24 22"><path d="M8.8 5.4 H16.5 L19.8 11.5 L16.5 17.6 H8.8 L5.4 11.5 Z" fill="none" stroke="#131722" stroke-width="1.1" stroke-linejoin="round"/><circle cx="12.6" cy="11.5" r="1.9" fill="none" stroke="#131722" stroke-width="1.1"/></svg>
<div id="sep"></div>
<div id="tb">
<span class="t " style="left:14.07px;top:12.57px;font-size:13.5px;font-weight:normal;color:#131722;transform:scaleX(0.9275)">1D</span><span class="t " style="left:41.83px;top:12.57px;font-size:13.5px;font-weight:normal;color:#131722;transform:scaleX(0.9422)">5D</span><span class="t " style="left:69.62px;top:12.57px;font-size:13.5px;font-weight:normal;color:#131722;transform:scaleX(0.9786)">1M</span><span class="t " style="left:99.11px;top:12.57px;font-size:13.5px;font-weight:normal;color:#131722;transform:scaleX(0.9793)">3M</span><span class="t " style="left:127.97px;top:12.57px;font-size:13.5px;font-weight:normal;color:#131722;transform:scaleX(1.0039)">6M</span><span class="t " style="left:157.37px;top:12.57px;font-size:13.5px;font-weight:normal;color:#131722;transform:scaleX(0.9263)">YTD</span><span class="t " style="left:194.45px;top:12.57px;font-size:13.5px;font-weight:normal;color:#131722;transform:scaleX(0.9503)">1Y</span><span class="t " style="left:221.94px;top:12.57px;font-size:13.5px;font-weight:normal;color:#131722;transform:scaleX(0.9265)">5Y</span><span class="t " style="left:249.00px;top:12.57px;font-size:13.5px;font-weight:normal;color:#131722;transform:scaleX(1.1466)">All</span>
<i style="left:276px;top:8px;width:1px;height:22px;background:#ebebeb"></i>
<svg style="position:absolute;left:286px;top:6px" width="28" height="24" viewBox="286 590 28 24" fill="none" stroke="#131722" stroke-width="1.15" stroke-linecap="round" stroke-linejoin="round"><path d="M296.4 593.2 V596.8 M303.4 593.2 V596.8 M291.4 601.5 V597.3 a2 2 0 0 1 2 -2 H306.4 a2 2 0 0 1 2 2 V608.3 a2 2 0 0 1 -2 2 H300.3 M291.4 599.3 H308.4 M290.3 607.5 H297.5 M294.3 604.2 L297.7 607.5 L294.3 610.8"/></svg>
<span class="t " style="left:1177.00px;top:12.57px;font-size:13.5px;font-weight:normal;color:#131722;transform:scaleX(1.0055)">03:16:18 UTC</span><span class="t " style="left:1272.62px;top:12.57px;font-size:13.5px;font-weight:normal;color:#131722;transform:scaleX(0.9840)">ETH</span>
<i style="left:1308px;top:8px;width:1px;height:22px;background:#ebebeb"></i>
<span class="t " style="left:1318.61px;top:12.57px;font-size:13.5px;font-weight:normal;color:#131722;transform:scaleX(0.9891)">B-ADJ</span>
</div>
<div id="strip"></div>
</body></html>
